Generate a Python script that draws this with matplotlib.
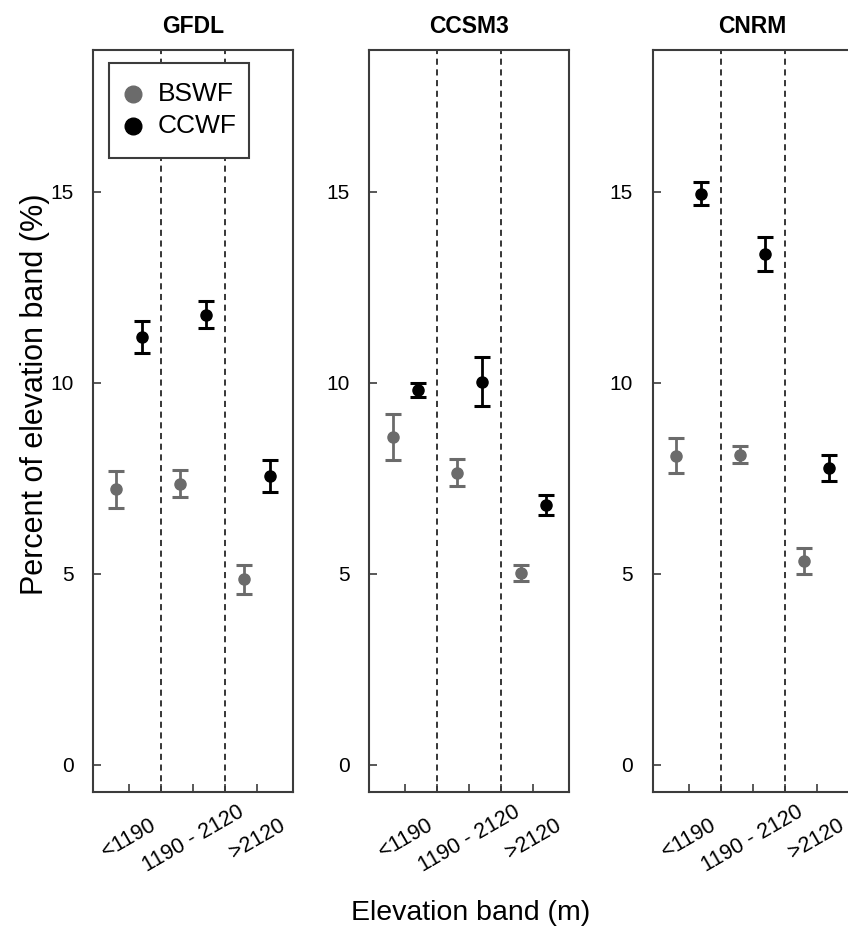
import matplotlib
matplotlib.use("Agg")
import matplotlib.pyplot as plt
from matplotlib.patches import Rectangle

plt.rcParams['font.family'] = ['Liberation Sans', 'DejaVu Sans']

# data
models = ['GFDL', 'CCSM3', 'CNRM']
bands = ['<1190', '1190 - 2120', '>2120']
series = ['BSWF', 'CCWF']

bswf_mean = {'GFDL': [7.21, 7.36, 4.86],
             'CCSM3': [8.58, 7.65, 5.02],
             'CNRM': [8.09, 8.12, 5.33]}
bswf_err = {'GFDL': [0.49, 0.35, 0.38],
            'CCSM3': [0.60, 0.35, 0.22],
            'CNRM': [0.46, 0.22, 0.35]}
ccwf_mean = {'GFDL': [11.21, 11.79, 7.57],
             'CCSM3': [9.82, 10.03, 6.81],
             'CNRM': [14.96, 13.38, 7.77]}
ccwf_err = {'GFDL': [0.42, 0.35, 0.42],
            'CCSM3': [0.18, 0.64, 0.26],
            'CNRM': [0.29, 0.45, 0.33]}

band_pos = [1, 3, 5]
gray = '#6b6b6b'
spine_col = '#3c3c3c'
colors = [gray, 'black']

fig = plt.figure(figsize=(8.48, 9.26), dpi=100)
lefts = [0.1097, 0.4357, 0.7695]

for k, m in enumerate(models):
    ax = fig.add_axes([lefts[k], 0.1447, 0.2358, 0.8013])
    xb = [p - 0.4 for p in band_pos]
    xc = [p + 0.4 for p in band_pos]
    ax.errorbar(xb, bswf_mean[m], yerr=bswf_err[m], fmt='o', color=gray,
                ms=8, elinewidth=2, capsize=5.5, capthick=2.2, zorder=3)
    ax.errorbar(xc, ccwf_mean[m], yerr=ccwf_err[m], fmt='o', color='black',
                ms=8, elinewidth=2, capsize=5.5, capthick=2.2, zorder=3)
    for xv in [2, 4]:
        ax.axvline(xv, color='black', lw=1.1, ls=(0, (4, 3)), zorder=1)
    ax.set_xlim(-0.125, 6.125)
    ax.set_ylim(-0.72, 18.72)
    ax.set_xticks([1, 2, 3, 4, 5])
    ax.set_xticklabels([])
    ax.set_yticks([0, 5, 10, 15])
    ax.tick_params(direction='in', length=6, width=1.2, color=spine_col,
                   labelsize=15, pad=14)
    for b, p in zip(bands, band_pos):
        ax.text(p, -0.063, b, transform=ax.get_xaxis_transform(),
                ha='center', va='center', rotation=30, fontsize=15.5)
    for s in ax.spines.values():
        s.set_color(spine_col)
        s.set_linewidth(1.5)
    ax.set_title(m, fontsize=16.5, fontweight='bold', pad=12)
    if k == 0:
        # legend box drawn by hand to match the R-style layout
        ax.add_patch(Rectangle((0.08, 0.8544), 0.70, 0.1281,
                               transform=ax.transAxes, fill=True,
                               facecolor='white', edgecolor=spine_col,
                               lw=1.5, zorder=5))
        for i, (lab, c) in enumerate(zip(series, colors)):
            yy = 0.9407 - i * 0.0431
            ax.plot([0.2], [yy], 'o', color=c, ms=12,
                    transform=ax.transAxes, zorder=6, clip_on=False)
            ax.text(0.325, yy, lab, transform=ax.transAxes, ha='left',
                    va='center', fontsize=19, zorder=6)

fig.text(0.041, 0.5745, 'Percent of elevation band (%)', rotation=90,
         ha='center', va='center', fontsize=22)
fig.text(0.5546, 0.0, 'Elevation band (m)', ha='center', va='bottom',
         fontsize=20.5)

fig.savefig('out.png', dpi=100)
